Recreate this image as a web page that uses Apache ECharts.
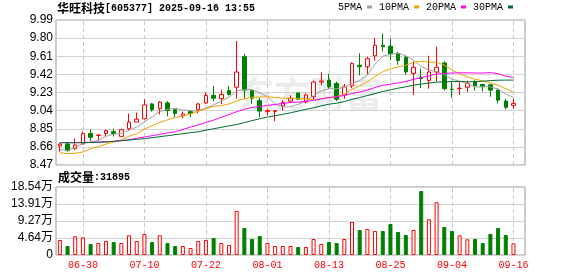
<!DOCTYPE html>
<html><head><meta charset="utf-8">
<script src="https://cdn.jsdelivr.net/npm/echarts@6/dist/echarts.min.js"></script>
<style>html,body{margin:0;padding:0;background:#fff}#c{width:578px;height:276px}</style>
</head><body><div id="c"></div>
<script>
const stockName = '华旺科技';
const stockCode = '605377';
const stamp = '2025-09-16 13:55';
const dates = ['06-25','06-26','06-27','06-30','07-01','07-02','07-03','07-04','07-07','07-08',
'07-09','07-10','07-11','07-14','07-15','07-16','07-17','07-18','07-21','07-22',
'07-23','07-24','07-25','07-28','07-29','07-30','07-31','08-01','08-04','08-05',
'08-06','08-07','08-08','08-11','08-12','08-13','08-14','08-15','08-18','08-19',
'08-20','08-21','08-22','08-25','08-26','08-27','08-28','08-29','09-01','09-02',
'09-03','09-04','09-05','09-08','09-09','09-10','09-11','09-12','09-15','09-16'];
const xTickLabels = ['06-30','07-10','07-22','08-01','08-13','08-25','09-04','09-16'];
const opens = [8.67,8.69,8.64,8.69,8.80,8.78,8.80,8.82,8.77,8.85,
8.92,8.955,9.11,9.06,9.12,9.05,8.985,9.03,9.05,9.12,
9.20,9.165,9.25,9.285,9.605,9.25,9.145,9.03,9.03,9.09,
9.14,9.225,9.13,9.185,9.34,9.36,9.325,9.205,9.30,9.515,
9.50,9.615,9.725,9.715,9.635,9.60,9.43,9.39,9.355,9.445,
9.54,9.265,9.27,9.285,9.345,9.315,9.31,9.255,9.14,9.095];
const closes = [8.69,8.62,8.68,8.80,8.76,8.785,8.83,8.80,8.84,8.92,
8.95,9.10,9.05,9.13,9.04,9.01,9.005,9.01,9.11,9.20,
9.17,9.21,9.21,9.445,9.255,9.17,9.035,9.04,9.04,9.125,
9.17,9.16,9.205,9.34,9.35,9.29,9.16,9.29,9.535,9.50,
9.585,9.725,9.71,9.635,9.565,9.445,9.495,9.375,9.445,9.495,
9.27,9.26,9.275,9.325,9.30,9.29,9.255,9.15,9.075,9.115];
const lows = [8.61,8.61,8.63,8.69,8.72,8.73,8.77,8.77,8.765,8.83,
8.92,8.95,9.03,9.00,8.98,8.97,8.96,8.97,9.01,9.11,
9.14,9.11,9.20,9.165,9.165,9.11,8.97,8.99,8.93,9.04,
9.12,9.15,9.115,9.16,9.305,9.265,9.14,9.165,9.275,9.41,
9.415,9.565,9.66,9.57,9.52,9.415,9.205,9.275,9.27,9.345,
9.25,9.175,9.205,9.235,9.25,9.24,9.185,9.115,9.055,9.06];
const highs = [8.70,8.70,8.75,8.82,8.84,8.79,8.84,8.85,8.85,9.01,
9.02,9.16,9.12,9.14,9.14,9.06,9.03,9.04,9.12,9.23,
9.30,9.26,9.30,9.77,9.635,9.265,9.17,9.06,9.04,9.15,
9.20,9.23,9.22,9.355,9.44,9.425,9.345,9.32,9.545,9.64,
9.605,9.80,9.85,9.795,9.655,9.615,9.555,9.48,9.615,9.71,
9.555,9.34,9.34,9.355,9.36,9.32,9.32,9.275,9.165,9.165];
const ma5 = [8.634,8.620,8.656,8.697,8.710,8.729,8.770,8.794,8.802,8.835,
8.868,8.922,8.973,9.030,9.053,9.065,9.046,9.039,9.035,9.068,
9.100,9.141,9.181,9.248,9.260,9.260,9.224,9.188,9.107,9.080,
9.080,9.106,9.140,9.201,9.246,9.270,9.269,9.286,9.325,9.355,
9.414,9.527,9.611,9.631,9.643,9.615,9.569,9.502,9.464,9.451,
9.416,9.369,9.349,9.325,9.287,9.291,9.290,9.265,9.215,9.178];
const ma10 = [8.599,8.589,8.593,8.606,8.641,8.662,8.690,8.711,8.732,8.772,
8.798,8.846,8.883,8.916,8.944,8.967,8.984,9.006,9.032,9.060,
9.083,9.093,9.110,9.142,9.164,9.180,9.182,9.185,9.178,9.170,
9.170,9.165,9.164,9.154,9.163,9.175,9.188,9.213,9.263,9.301,
9.342,9.398,9.449,9.478,9.499,9.515,9.548,9.557,9.548,9.547,
9.516,9.469,9.426,9.395,9.369,9.353,9.330,9.307,9.270,9.232];
const ma20 = [8.704,8.704,8.704,8.706,8.708,8.711,8.714,8.718,8.725,8.735,
8.750,8.764,8.777,8.792,8.805,8.819,8.842,8.868,8.889,8.916,
8.940,8.970,8.997,9.029,9.054,9.073,9.083,9.095,9.105,9.115,
9.126,9.129,9.137,9.148,9.163,9.177,9.185,9.199,9.220,9.235,
9.256,9.282,9.306,9.316,9.331,9.345,9.368,9.385,9.405,9.424,
9.429,9.434,9.437,9.436,9.434,9.434,9.439,9.428,9.400,9.390];
const ma30 = [8.704,8.704,8.704,8.704,8.706,8.708,8.711,8.718,8.725,8.732,
8.739,8.746,8.756,8.767,8.777,8.788,8.798,8.809,8.819,8.834,
8.850,8.865,8.880,8.895,8.915,8.935,8.955,8.972,8.987,9.001,
9.017,9.035,9.053,9.070,9.090,9.107,9.118,9.135,9.158,9.177,
9.198,9.219,9.241,9.258,9.275,9.290,9.306,9.318,9.329,9.339,
9.342,9.344,9.346,9.342,9.344,9.348,9.355,9.359,9.360,9.360];
const volumes = [40900,24500,51000,48300,30000,32700,38200,35400,32700,53700,
38200,57300,35400,53700,32700,24500,24500,19100,38200,40900,
46400,32700,27300,120000,73600,43600,51800,32700,24500,24500,
24500,21800,21800,43600,30000,35400,32700,43600,90000,68200,
70900,65400,65400,84500,62700,54500,68200,174500,97300,143700,
76300,65400,53700,42800,43600,32700,57300,73600,54500,31895];
const volUp = [1,0,1,1,0,1,1,0,1,1,
1,1,0,1,0,0,1,1,1,1,
0,1,1,1,0,0,0,1,1,1,
1,0,1,1,1,0,0,1,1,0,
1,1,0,0,0,0,1,0,1,1,
0,0,1,1,0,0,0,0,0,1];
const priceMin = 8.47, priceMax = 9.99, priceStep = 0.19;
const volMax = 185400;
const volTickLabels = ['0','4.64万','9.27万','13.91万','18.54万'];
const maNames = ['5PMA','10PMA','20PMA','30PMA'];

const RED = '#ff0000', GREEN = '#008000';
const maColors = ['#a0a0a0','#f2a200','#ff00ff','#006c30'];
const maData = [ma5, ma10, ma20, ma30];
const MONO = 'Liberation Mono';

const chart = echarts.init(document.getElementById('c'), null, {renderer:'canvas'});
const isTick = (idx) => xTickLabels.indexOf(dates[idx]) >= 0;
const gridCommon = {left:56, width:469, show:true, borderColor:'#999', borderWidth:1, backgroundColor:'transparent'};
const vLines = {silent:true, symbol:['none','none'], z:1, label:{show:false}, emphasis:{disabled:true},
  lineStyle:{color:'#c8c8c8', width:1, type:[4,3]}, data:xTickLabels.map(d=>({xAxis:d}))};

const candleData = dates.map((d,i)=>[opens[i], closes[i], lows[i], highs[i]]);
const volData = volumes.map((v,i)=>({value:v, itemStyle: volUp[i] ?
  {color:'#ffffff', borderColor:RED, borderWidth:1} : {color:GREEN, borderColor:GREEN, borderWidth:1}}));

const richStyle = {a:{fontFamily:'Noto Sans CJK SC', fontSize:12, color:'#000', lineHeight:14},
                   b:{fontFamily:MONO, fontSize:10, color:'#000', lineHeight:14}};

const option = {
  animation:false,
  backgroundColor:'#ffffff',
  title:[
    {left:57, top:1, padding:0, text:'{a|'+stockName+'}{b|['+stockCode+'] '+stamp+'}',
     textStyle:{rich:richStyle}},
    {left:58, top:170, padding:0, text:'{a|成交量}{b|:'+volumes[volumes.length-1]+'}',
     textStyle:{rich:richStyle}}
  ],
  legend:{left:338, top:2, padding:0, align:'right', icon:'rect', itemWidth:5, itemHeight:3, itemGap:7,
    textStyle:{fontFamily:MONO, fontSize:10, color:'#000'}, data:maNames},
  graphic:[{type:'text', left:238, top:76, z:0, silent:true,
    style:{text:'东方财富', fill:'#ececec', font:'bold 36px "Noto Sans CJK SC"'}}],
  grid:[
    Object.assign({top:20, height:145}, gridCommon),
    Object.assign({top:187, height:68}, gridCommon)
  ],
  xAxis:[
    {type:'category', gridIndex:0, data:dates, max:60, boundaryGap:true,
     axisLine:{show:false}, axisTick:{show:false}, axisLabel:{show:false}, splitLine:{show:false}},
    {type:'category', gridIndex:1, data:dates, max:60, boundaryGap:true,
     axisLine:{show:false}, axisTick:{show:false},
     axisLabel:{show:true, interval:isTick, color:RED, margin:5, fontFamily:MONO, fontSize:10},
     splitLine:{show:false}}
  ],
  yAxis:[
    {type:'value', gridIndex:0, min:priceMin, max:priceMax, interval:priceStep,
     axisLine:{show:false}, axisTick:{show:false},
     axisLabel:{margin:3, color:'#000', fontFamily:'Liberation Sans', fontSize:12, formatter:v=>v.toFixed(2)},
     splitLine:{show:true, lineStyle:{color:'#d4d4d4', width:1}}},
    {type:'value', gridIndex:1, min:0, max:volMax, interval:volMax/4,
     axisLine:{show:false}, axisTick:{show:false},
     axisLabel:{margin:3, color:'#000', fontFamily:'Liberation Sans, Noto Sans CJK SC', fontSize:12,
       formatter:v=>volTickLabels[Math.round(v/(volMax/4))]},
     splitLine:{show:true, lineStyle:{color:'#d4d4d4', width:1}}}
  ],
  series:[
    {type:'candlestick', name:'K', xAxisIndex:0, yAxisIndex:0, data:candleData, barWidth:4, z:2,
     itemStyle:{color:'#ffffff', color0:GREEN, borderColor:RED, borderColor0:GREEN, borderWidth:1},
     markLine:vLines},
  ].concat(maNames.map((n,k)=>({
    type:'line', name:n, xAxisIndex:0, yAxisIndex:0, data:maData[k], symbol:'none', showSymbol:false,
    color:maColors[k], lineStyle:{color:maColors[k], width:1}, z:3
  }))).concat([
    {type:'bar', name:'VOL', xAxisIndex:1, yAxisIndex:1, data:volData, barWidth:4, z:2, markLine:vLines}
  ])
};
chart.setOption(option);
</script></body></html>
